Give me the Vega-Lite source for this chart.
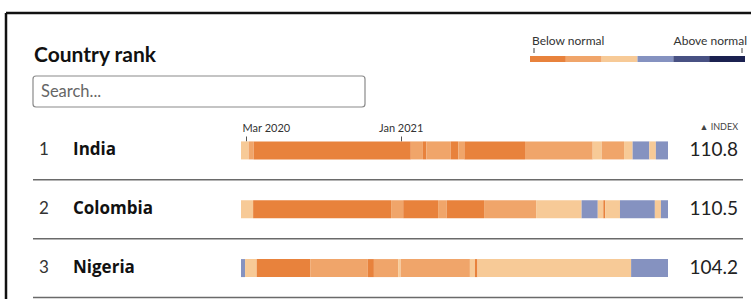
{
  "$schema": "https://vega.github.io/schema/vega-lite/v6.json",
  "width": 751,
  "height": 299,
  "autosize": {"type": "none"},
  "padding": 0,
  "background": "white",
  "config": {"view": {"stroke": null}, "font": "Lato"},
  "datasets": {
    "segments": [
      {"country": "India", "rank": 1, "start": "2020-02-20", "end": "2020-03-06", "level": 3},
      {"country": "India", "rank": 1, "start": "2020-03-06", "end": "2020-03-16", "level": 2},
      {"country": "India", "rank": 1, "start": "2020-03-16", "end": "2021-01-21", "level": 1},
      {"country": "India", "rank": 1, "start": "2021-01-21", "end": "2021-02-14", "level": 2},
      {"country": "India", "rank": 1, "start": "2021-02-14", "end": "2021-02-21", "level": 1},
      {"country": "India", "rank": 1, "start": "2021-02-21", "end": "2021-04-10", "level": 2},
      {"country": "India", "rank": 1, "start": "2021-04-10", "end": "2021-04-25", "level": 1},
      {"country": "India", "rank": 1, "start": "2021-04-25", "end": "2021-05-07", "level": 2},
      {"country": "India", "rank": 1, "start": "2021-05-07", "end": "2021-09-04", "level": 1},
      {"country": "India", "rank": 1, "start": "2021-09-04", "end": "2022-01-16", "level": 2},
      {"country": "India", "rank": 1, "start": "2022-01-16", "end": "2022-02-03", "level": 3},
      {"country": "India", "rank": 1, "start": "2022-02-03", "end": "2022-03-19", "level": 2},
      {"country": "India", "rank": 1, "start": "2022-03-19", "end": "2022-04-05", "level": 3},
      {"country": "India", "rank": 1, "start": "2022-04-05", "end": "2022-05-08", "level": 4},
      {"country": "India", "rank": 1, "start": "2022-05-08", "end": "2022-05-21", "level": 3},
      {"country": "India", "rank": 1, "start": "2022-05-21", "end": "2022-06-14", "level": 4},
      {"country": "Colombia", "rank": 2, "start": "2020-02-20", "end": "2020-03-15", "level": 3},
      {"country": "Colombia", "rank": 2, "start": "2020-03-15", "end": "2020-12-13", "level": 1},
      {"country": "Colombia", "rank": 2, "start": "2020-12-13", "end": "2021-01-06", "level": 2},
      {"country": "Colombia", "rank": 2, "start": "2021-01-06", "end": "2021-03-16", "level": 1},
      {"country": "Colombia", "rank": 2, "start": "2021-03-16", "end": "2021-04-02", "level": 2},
      {"country": "Colombia", "rank": 2, "start": "2021-04-02", "end": "2021-06-15", "level": 1},
      {"country": "Colombia", "rank": 2, "start": "2021-06-15", "end": "2021-09-26", "level": 2},
      {"country": "Colombia", "rank": 2, "start": "2021-09-26", "end": "2021-12-25", "level": 3},
      {"country": "Colombia", "rank": 2, "start": "2021-12-25", "end": "2022-01-26", "level": 4},
      {"country": "Colombia", "rank": 2, "start": "2022-01-26", "end": "2022-02-06", "level": 3},
      {"country": "Colombia", "rank": 2, "start": "2022-02-06", "end": "2022-02-10", "level": 1},
      {"country": "Colombia", "rank": 2, "start": "2022-02-10", "end": "2022-03-11", "level": 3},
      {"country": "Colombia", "rank": 2, "start": "2022-03-11", "end": "2022-05-19", "level": 4},
      {"country": "Colombia", "rank": 2, "start": "2022-05-19", "end": "2022-05-31", "level": 3},
      {"country": "Colombia", "rank": 2, "start": "2022-05-31", "end": "2022-06-14", "level": 4},
      {"country": "Nigeria", "rank": 3, "start": "2020-02-20", "end": "2020-02-28", "level": 4},
      {"country": "Nigeria", "rank": 3, "start": "2020-02-28", "end": "2020-03-22", "level": 3},
      {"country": "Nigeria", "rank": 3, "start": "2020-03-22", "end": "2020-07-06", "level": 1},
      {"country": "Nigeria", "rank": 3, "start": "2020-07-06", "end": "2020-10-28", "level": 2},
      {"country": "Nigeria", "rank": 3, "start": "2020-10-28", "end": "2020-11-09", "level": 1},
      {"country": "Nigeria", "rank": 3, "start": "2020-11-09", "end": "2020-12-27", "level": 2},
      {"country": "Nigeria", "rank": 3, "start": "2020-12-27", "end": "2021-01-01", "level": 3},
      {"country": "Nigeria", "rank": 3, "start": "2021-01-01", "end": "2021-05-18", "level": 2},
      {"country": "Nigeria", "rank": 3, "start": "2021-05-18", "end": "2021-05-28", "level": 3},
      {"country": "Nigeria", "rank": 3, "start": "2021-05-28", "end": "2021-06-02", "level": 1},
      {"country": "Nigeria", "rank": 3, "start": "2021-06-02", "end": "2022-04-02", "level": 3},
      {"country": "Nigeria", "rank": 3, "start": "2022-04-02", "end": "2022-06-14", "level": 4}
    ],
    "countries": [
      {"rank": 1, "country": "India", "index": 110.8},
      {"rank": 2, "country": "Colombia", "index": 110.5},
      {"rank": 3, "country": "Nigeria", "index": 104.2}
    ],
    "legend": [
      {"level": 1}, {"level": 2}, {"level": 3}, {"level": 4}, {"level": 5}, {"level": 6}
    ]
  },
  "layer": [
    {
      "data": {"values": [{}]},
      "mark": {"type": "rule", "color": "#111111", "strokeWidth": 2.5},
      "encoding": {"x": {"value": 6}, "x2": {"value": 751}, "y": {"value": 13}}
    },
    {
      "data": {"values": [{}]},
      "mark": {"type": "rule", "color": "#111111", "strokeWidth": 2.5},
      "encoding": {"x": {"value": 6}, "y": {"value": 13}, "y2": {"value": 299}}
    },
    {
      "data": {"values": [{"t": "Country rank"}]},
      "mark": {"type": "text", "align": "left", "baseline": "alphabetic", "fontSize": 21, "fontWeight": "bold", "color": "#111111"},
      "encoding": {"x": {"value": 34}, "y": {"value": 62}, "text": {"field": "t"}}
    },
    {
      "data": {"values": [{}]},
      "mark": {"type": "rect", "fill": "white", "stroke": "#8a8a8a", "strokeWidth": 1.2, "cornerRadius": 3},
      "encoding": {"x": {"value": 33}, "x2": {"value": 365}, "y": {"value": 76}, "y2": {"value": 107}}
    },
    {
      "data": {"values": [{"t": "Search..."}]},
      "mark": {"type": "text", "align": "left", "baseline": "middle", "fontSize": 16.5, "color": "#666666"},
      "encoding": {"x": {"value": 41}, "y": {"value": 92}, "text": {"field": "t"}}
    },
    {
      "data": {"name": "legend"},
      "mark": {"type": "bar"},
      "encoding": {
        "x": {"field": "level", "type": "ordinal", "scale": {"range": [530, 745], "paddingInner": 0, "paddingOuter": 0}, "axis": null},
        "y": {"value": 56},
        "y2": {"value": 62},
        "color": {"field": "level", "type": "ordinal", "scale": {"domain": [1, 2, 3, 4, 5, 6], "range": ["#E8823C", "#F0A56A", "#F7CA97", "#8592C0", "#485183", "#1B2150"]}, "legend": null}
      }
    },
    {
      "data": {"values": [{"t": "Below normal"}]},
      "mark": {"type": "text", "align": "left", "baseline": "alphabetic", "fontSize": 12, "color": "#333333"},
      "encoding": {"x": {"value": 532}, "y": {"value": 45}, "text": {"field": "t"}}
    },
    {
      "data": {"values": [{"t": "Above normal"}]},
      "mark": {"type": "text", "align": "right", "baseline": "alphabetic", "fontSize": 12, "color": "#333333"},
      "encoding": {"x": {"value": 747}, "y": {"value": 45}, "text": {"field": "t"}}
    },
    {
      "data": {"values": [{}]},
      "mark": {"type": "rule", "color": "#444444", "strokeWidth": 1},
      "encoding": {"x": {"value": 534}, "y": {"value": 48}, "y2": {"value": 53}}
    },
    {
      "data": {"values": [{}]},
      "mark": {"type": "rule", "color": "#444444", "strokeWidth": 1},
      "encoding": {"x": {"value": 742}, "y": {"value": 48}, "y2": {"value": 53}}
    },
    {
      "data": {"name": "segments"},
      "mark": {"type": "bar", "height": 18},
      "encoding": {
        "x": {
          "field": "start", "type": "temporal",
          "scale": {"type": "utc", "domain": [{"year": 2020, "month": 2, "date": 20, "utc": true}, {"year": 2022, "month": 6, "date": 14, "utc": true}], "range": [241, 668]},
          "axis": {
            "orient": "top", "offset": -141, "title": null, "domain": false, "grid": false,
            "values": [{"year": 2020, "month": 3, "date": 1, "utc": true}, {"year": 2021, "month": 1, "date": 1, "utc": true}],
            "format": "%b %Y", "tickSize": 5, "tickColor": "#555555", "tickWidth": 1,
            "labelFontSize": 11, "labelColor": "#333333", "labelPadding": 3, "labelFlush": 10, "labelFlushOffset": 4
          }
        },
        "x2": {"field": "end"},
        "y": {"field": "rank", "type": "ordinal", "scale": {"range": [121, 297.5], "paddingInner": 0, "paddingOuter": 0}, "axis": null},
        "color": {"field": "level", "type": "ordinal", "legend": null}
      }
    },
    {
      "data": {"name": "countries"},
      "mark": {"type": "rule", "color": "#6a6a6a", "strokeWidth": 1.5},
      "encoding": {
        "y": {"field": "rank", "type": "ordinal", "bandPosition": 1, "axis": null},
        "x": {"value": 33},
        "x2": {"value": 743}
      }
    },
    {
      "data": {"name": "countries"},
      "mark": {"type": "text", "align": "left", "baseline": "middle", "fontSize": 17, "color": "#333333"},
      "encoding": {
        "y": {"field": "rank", "type": "ordinal", "axis": null},
        "x": {"value": 39},
        "text": {"field": "rank", "type": "ordinal"}
      }
    },
    {
      "data": {"name": "countries"},
      "mark": {"type": "text", "align": "left", "baseline": "middle", "fontSize": 17, "fontWeight": "bold", "color": "#111111", "font": "Open Sans"},
      "encoding": {
        "y": {"field": "rank", "type": "ordinal", "axis": null},
        "x": {"value": 73},
        "text": {"field": "country", "type": "nominal"}
      }
    },
    {
      "data": {"name": "countries"},
      "mark": {"type": "text", "align": "right", "baseline": "middle", "fontSize": 19, "color": "#222222"},
      "encoding": {
        "y": {"field": "rank", "type": "ordinal", "axis": null},
        "x": {"value": 738},
        "text": {"field": "index", "type": "quantitative", "format": ".1f"}
      }
    },
    {
      "data": {"values": [{"t": "▲ INDEX"}]},
      "mark": {"type": "text", "align": "right", "baseline": "alphabetic", "fontSize": 9, "color": "#444444"},
      "encoding": {"x": {"value": 738}, "y": {"value": 130}, "text": {"field": "t"}}
    }
  ],
  "resolve": {"scale": {"x": "independent"}, "axis": {"x": "independent"}}
}
